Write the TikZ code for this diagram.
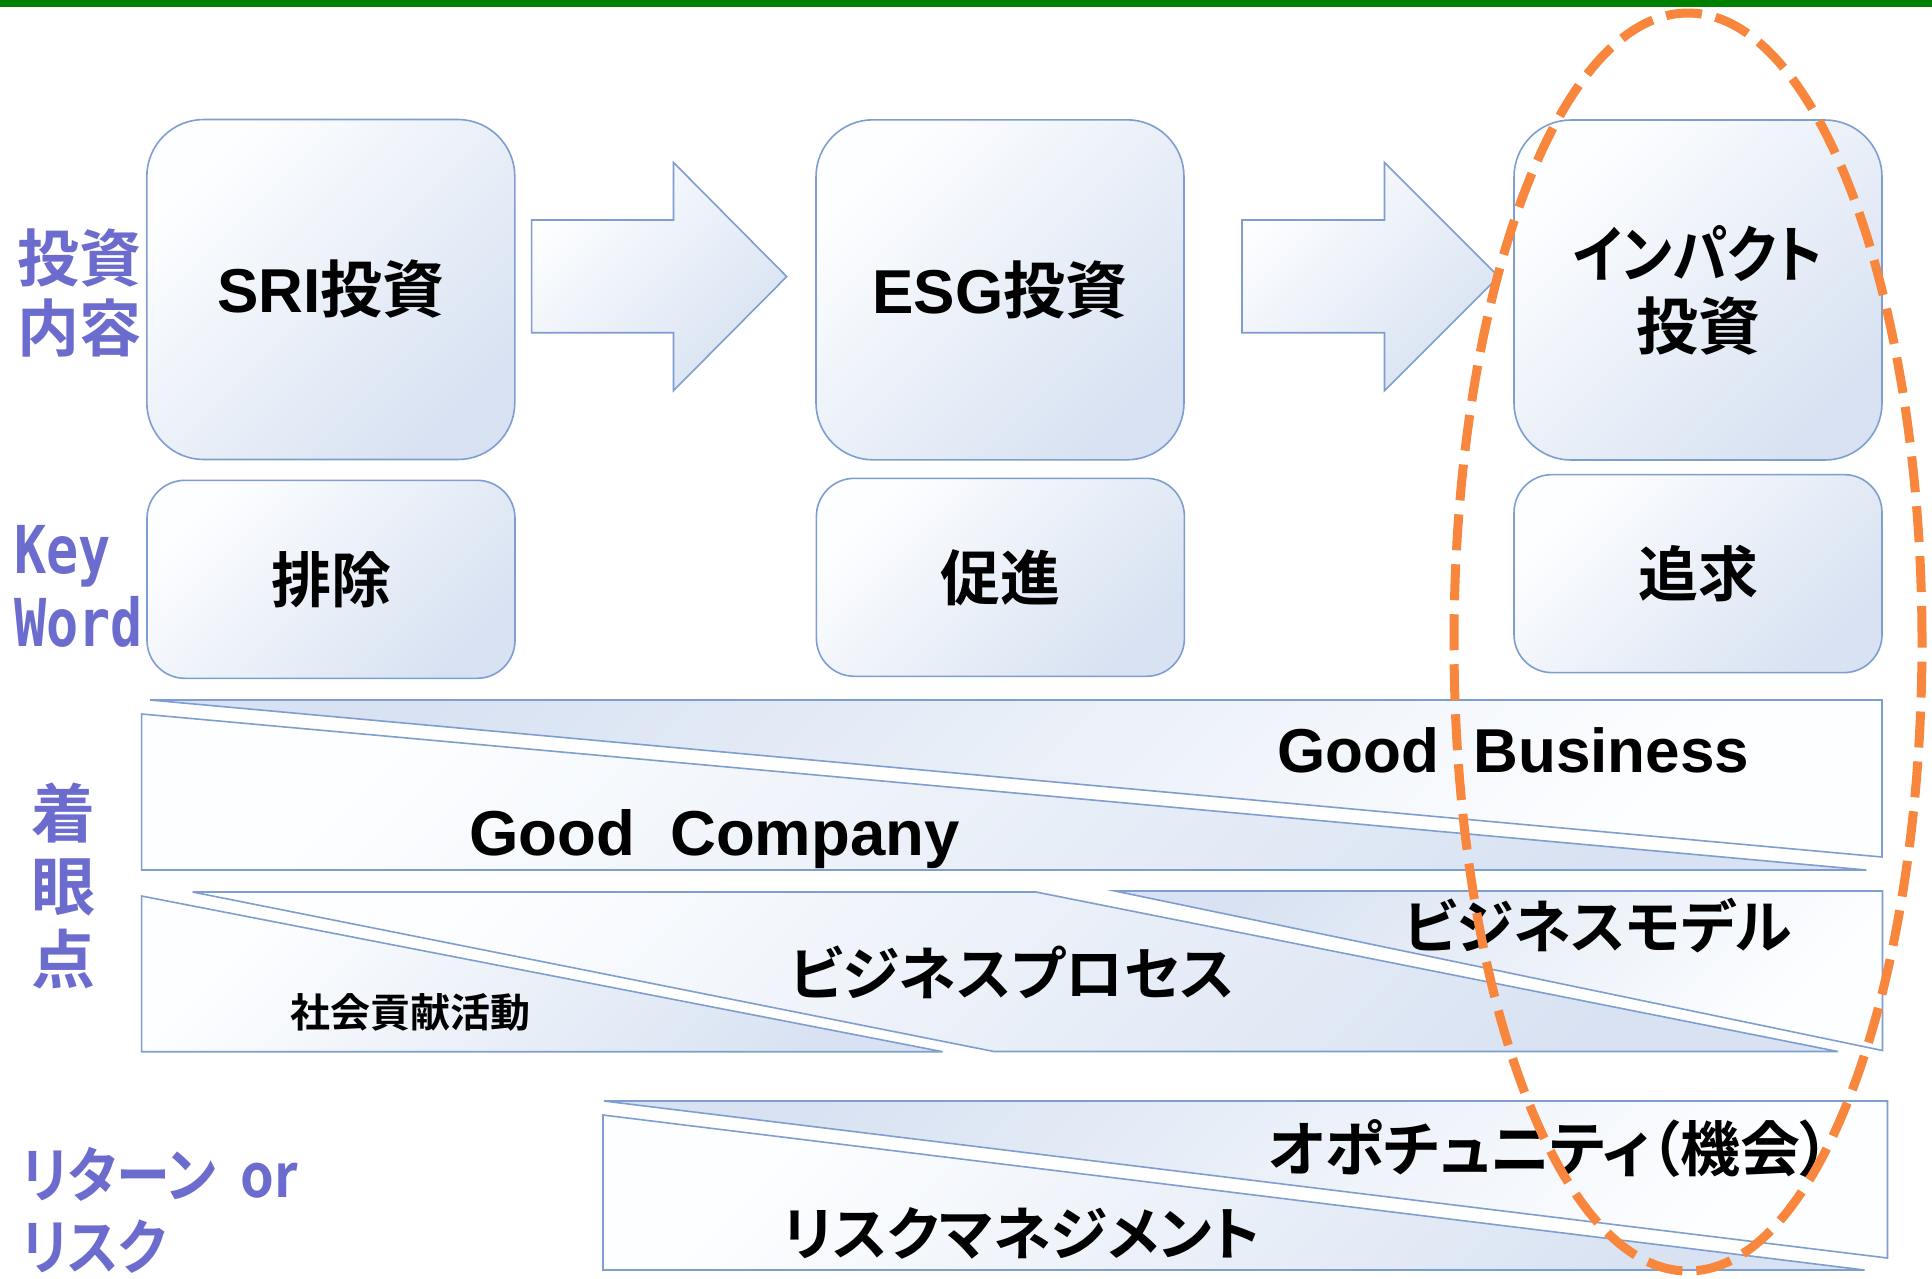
\documentclass[tikz,border=0pt]{standalone}
\usepackage{fontspec}
\usepackage{graphicx}
\setmainfont{Liberation Sans}
\newfontfamily\jp{Noto Sans CJK JP}[RawFeature=+palt, BoldFont={Noto Sans CJK JP Bold}]
\newfontfamily\mono{DejaVu Sans Mono}[FakeStretch=0.81]
\definecolor{bord}{RGB}{126,158,208}
\definecolor{lb}{RGB}{216,226,242}
\definecolor{lw}{RGB}{253,254,255}
\definecolor{pur}{RGB}{108,108,206}
\definecolor{org}{RGB}{248,134,60}
\definecolor{grn}{RGB}{0,128,0}
\tikzset{
  grad/.style={draw=bord, line width=1.6pt, top color=lw, bottom color=lb, shading angle=45},
  gradrev/.style={draw=bord, line width=1.6pt, top color=lb, bottom color=lw, shading angle=45},
  bigbox/.style={grad, rounded corners=57pt, minimum width=368pt, minimum height=340pt, inner sep=0pt, align=center},
  kwbox/.style={grad, rounded corners=38pt, minimum width=368pt, minimum height=198pt, inner sep=0pt, align=center},
  lbl/.style={text=pur, inner sep=0pt},
  jtxt/.style={inner sep=0pt, font=\jp\bfseries\fontsize{#1}{#1}\selectfont},
  ltxt/.style={inner sep=0pt, anchor=base west, font=\bfseries\fontsize{#1}{#1}\selectfont},
}
\begin{document}
\begin{tikzpicture}[x=1pt, y=-1pt]
\useasboundingbox (0,0) rectangle (1932,1278);
\fill[white] (0,0) rectangle (1932,1278);
% top green rule
\fill[grn] (0,0) rectangle (1932,7.3);

% investment boxes
\node[bigbox, font=\bfseries\fontsize{62}{72}\selectfont] (sri) at (330.8,289.5) {SRI{\jp 投資}};
\node[bigbox, font=\bfseries\fontsize{62}{72}\selectfont] (esg) at (1000,289.8) {ESG{\jp 投資}};
\node[bigbox, font=\jp\bfseries\fontsize{62}{72}\selectfont] (imp) at (1698,290) {\scalebox{0.89}[1]{インパクト}\\投資};

% keyword boxes
\node[kwbox, font=\jp\bfseries\fontsize{60}{70}\selectfont] (hai) at (331,579.3) {排除};
\node[kwbox, font=\jp\bfseries\fontsize{60}{70}\selectfont] (sok) at (1000.4,577.3) {促進};
\node[kwbox, font=\jp\bfseries\fontsize{60}{70}\selectfont] (tsu) at (1698,573.6) {追求};

% block arrows
\draw[grad] (531.6,220) -- (673.5,220) -- (673.5,162.5) -- (786.7,276.6) -- (673.5,390.6) -- (673.5,332.7) -- (531.6,332.7) -- cycle;
\draw[grad] (1242,220) -- (1384.5,220) -- (1384.5,162.5) -- (1498.6,276.6) -- (1384.5,390.6) -- (1384.5,332.7) -- (1242,332.7) -- cycle;

% band 1
\draw[gradrev] (150,700) -- (1882,700) -- (1882,857) -- cycle;
\draw[grad] (141.6,714) -- (1866.4,870) -- (141.6,870) -- cycle;
\node[ltxt=62] (gbus) at (1277,772) {Good~~Business};
\node[ltxt=63.5] (gcom) at (469,855) {Good~~Company};

% band 2
\draw[grad] (141.6,896) -- (942.6,1051.7) -- (141.6,1051.7) -- cycle;
\draw[grad] (192.6,892) -- (1036,892) -- (1838,1051.5) -- (994,1051.5) -- cycle;
\draw[gradrev] (1115,891) -- (1882.5,891) -- (1882.5,1050.5) -- cycle;
\node[jtxt=40] (shakai) at (410,1012.5) {社会貢献活動};
\node[jtxt=58] (proc) at (1012,972) {ビジネスプロセス};
\node[jtxt=58] (model) at (1598,925.5) {ビジネスモデル};

% band 3
\draw[gradrev] (604,1101) -- (1887.5,1101) -- (1887.5,1258) -- cycle;
\draw[grad] (603,1115) -- (1864.5,1270) -- (603,1270) -- cycle;
\node[jtxt=60] (opp) at (1549,1148.5) {オポチュニティ（機会）};
\node[jtxt=58] (risk) at (1022,1233) {リスクマネジメント};

% left labels
\node[lbl, align=left, font=\jp\bfseries\fontsize{62}{70}\selectfont] (l1) at (79,292.5) {投資\\内容};
\node[lbl, align=left, anchor=north west, font=\mono\bfseries\fontsize{66}{73}\selectfont] (l2) at (14,525) {Key\\Word};
\node[lbl, align=center, font=\jp\bfseries\fontsize{64}{73}\selectfont] (l3) at (63.6,885.5) {着\\眼\\点};
\node[lbl, align=left, anchor=west, font=\jp\bfseries\fontsize{60}{72}\selectfont] (l4) at (21,1210.5) {\scalebox{0.9}[1]{リターン~~or}\\\scalebox{0.9}[1]{リスク}};

% dashed ellipse
\draw[org, line width=9pt, dash pattern=on 36pt off 14pt] (1688,642) ellipse [x radius=234pt, y radius=629pt];
\end{tikzpicture}
\end{document}
